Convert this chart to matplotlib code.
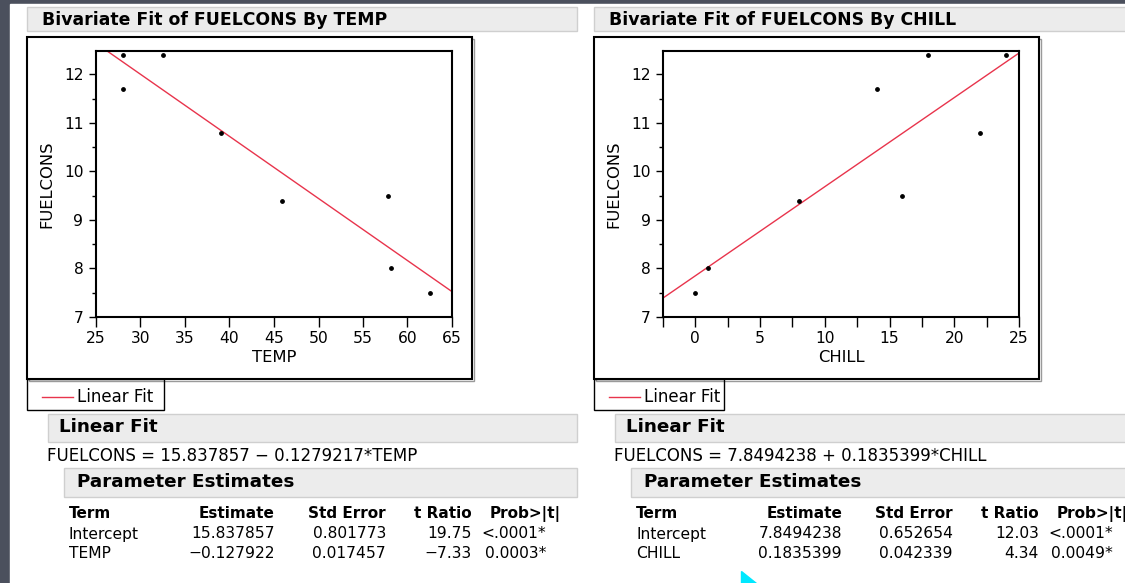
import numpy as np
import matplotlib.pyplot as plt
from matplotlib.patches import Rectangle, Polygon

# data (8 observations)
temp = [28.0, 28.0, 32.5, 39.0, 45.9, 57.8, 58.1, 62.5]
chill = [18, 14, 24, 22, 8, 16, 1, 0]
fuelcons = [12.4, 11.7, 12.4, 10.8, 9.4, 9.5, 8.0, 7.5]

temp_ticks = [25, 30, 35, 40, 45, 50, 55, 60, 65]
chill_ticks = [0, 5, 10, 15, 20, 25]
fuel_ticks = [7, 8, 9, 10, 11, 12]

table_cols = ["Term", "Estimate", "Std Error", "t Ratio", "Prob>|t|"]
temp_rows = [["Intercept", "15.837857", "0.801773", "19.75", "<.0001*"],
             ["TEMP", "\u22120.127922", "0.017457", "\u22127.33", "0.0003*"]]
chill_rows = [["Intercept", "7.8494238", "0.652654", "12.03", "<.0001*"],
              ["CHILL", "0.1835399", "0.042339", "4.34", "0.0049*"]]

W, H = 1125, 583
fig = plt.figure(figsize=(W / 100, H / 100), dpi=100, facecolor="#4b505d")
plt.rcParams['font.family'] = ['DejaVu Sans']

# page layer in pixel coords
bg = fig.add_axes([0, 0, 1, 1])
bg.set_xlim(0, W)
bg.set_ylim(H, 0)
bg.axis("off")
bg.add_patch(Rectangle((10, 4), W, H, color="white", zorder=0))

red = "#e8344c"
txt = 12.0     # plain text
tab = 11.2     # table body
hdr = 11.0     # table header (bold)
sec = 13.2     # section headers (bold)
tick = 11.2


def panel(x0, xname, xvals, xticks, xlim, minor_x, rows, eq, clip_right, leg_w):
    # title bar
    bg.add_patch(Rectangle((x0, 7), clip_right - x0, 24, facecolor="#ececec",
                           edgecolor="#cfcfcf", lw=1))
    bg.text(x0 + 15, 20, "Bivariate Fit of FUELCONS By " + xname,
            fontsize=12.4, fontweight="bold", va="center")
    # outer frame + legend box
    bg.add_patch(Rectangle((x0 + 1.5, 38.5), 445, 342, facecolor="none",
                           edgecolor="#9a9a9a", lw=1))
    bg.add_patch(Rectangle((x0, 37), 445, 342, facecolor="white",
                           edgecolor="black", lw=1.5))
    bg.add_patch(Rectangle((x0, 379), leg_w, 31, facecolor="none",
                           edgecolor="black", lw=1))
    bg.plot([x0 + 15, x0 + 46], [397, 397], color=red, lw=1)
    bg.text(x0 + 50, 397, "Linear Fit", fontsize=txt, va="center")
    # Linear Fit header
    bg.add_patch(Rectangle((x0 + 21, 414), clip_right - x0 - 21, 28,
                           facecolor="#ececec", edgecolor="#cfcfcf", lw=1))
    bg.text(x0 + 32, 427, "Linear Fit", fontsize=sec, fontweight="bold", va="center")
    bg.text(x0 + 20, 456, eq, fontsize=txt, va="center")
    # Parameter Estimates header
    bg.add_patch(Rectangle((x0 + 37, 468), clip_right - x0 - 37, 29,
                           facecolor="#ececec", edgecolor="#cfcfcf", lw=1))
    bg.text(x0 + 50, 482, "Parameter Estimates", fontsize=sec,
            fontweight="bold", va="center")
    col_x = [x0 + 42, x0 + 248, x0 + 359, x0 + 445, x0 + 463]
    col_ha = ["left", "right", "right", "right", "left"]
    for j, c in enumerate(table_cols):
        bg.text(col_x[j], 514, c, fontsize=hdr, fontweight="bold", va="center",
                ha=col_ha[j])
    for i, r in enumerate(rows):
        for j, v in enumerate(r):
            if j == 4:
                bg.text(x0 + 519, 534 + i * 19.5, v, fontsize=tab, va="center",
                        ha="right")
            else:
                bg.text(col_x[j], 534 + i * 19.5, v, fontsize=tab, va="center",
                        ha=col_ha[j])

    # scatter plot
    ax_l, ax_r = x0 + 69, x0 + 425
    ax = fig.add_axes([ax_l / W, 1 - 317 / H, (ax_r - ax_l) / W, (317 - 51) / H])
    ax.scatter(xvals, fuelcons, s=6, color="black", zorder=3)
    slope, inter = np.polyfit(xvals, fuelcons, 1)
    xs = np.array(xlim)
    ax.plot(xs, inter + slope * xs, color=red, lw=1)
    ax.set_xlim(xlim)
    ax.set_ylim(7, 12.48)
    ax.set_xticks(xticks)
    ax.set_yticks(fuel_ticks)
    ax.set_yticks(np.arange(7.5, 12.5, 1.0), minor=True)
    if minor_x:
        ax.set_xticks(minor_x, minor=True)
    ax.tick_params(axis="y", which="major", length=5, width=1, labelsize=tick, pad=4)
    ax.tick_params(axis="y", which="minor", length=3, width=1)
    ax.tick_params(axis="x", which="both", length=7, width=1, labelsize=tick, pad=3)
    for s in ax.spines.values():
        s.set_linewidth(1.5)
    ax.set_xlabel(xname, fontsize=11.8, labelpad=3)
    ax.set_ylabel("FUELCONS", fontsize=11.8, labelpad=7)


panel(27, "TEMP", temp, temp_ticks, (25, 65), None, temp_rows,
      "FUELCONS = 15.837857 \u2212 0.1279217*TEMP", 577, 137)
panel(594, "CHILL", chill, chill_ticks, (-2.5, 25),
      [-2.5, 2.5, 7.5, 12.5, 17.5, 22.5], chill_rows,
      "FUELCONS = 7.8494238 + 0.1835399*CHILL", 1140, 130)

# mouse pointer remnant
bg.add_patch(Polygon([(741, 571), (741, 583), (756, 583)], color="#00e8ff"))

fig.savefig("out.png", dpi=100, facecolor=fig.get_facecolor())
